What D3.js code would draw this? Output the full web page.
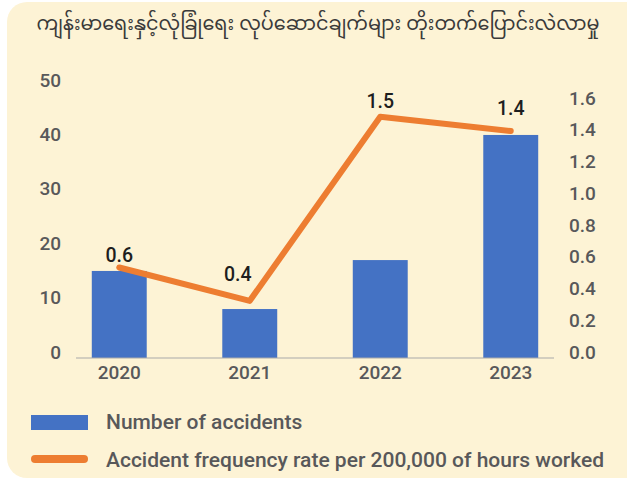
<!DOCTYPE html>
<html>
<head>
<meta charset="utf-8">
<script src="https://cdn.jsdelivr.net/npm/d3@7"></script>
<style>
  body { margin: 0; background: #fff; }
  svg text { font-family: Roboto, "Noto Sans", sans-serif; }
</style>
</head>
<body>
<svg id="chart" width="627" height="479"></svg>
<script>
// DATA
var years = ["2020", "2021", "2022", "2023"];
var accidents = [16, 9, 18, 41];
var rate = [0.57, 0.36, 1.52, 1.43];
var rateLabels = ["0.6", "0.4", "1.5", "1.4"];
var leftTicks = [0, 10, 20, 30, 40, 50];
var rightTicks = [0, 0.2, 0.4, 0.6, 0.8, 1.0, 1.2, 1.4, 1.6];
var title = "ကျန်းမာရေးနှင့်လုံခြုံရေး လုပ်ဆောင်ချက်များ တိုးတက်ပြောင်းလဲလာမှု";
var legendNames = ["Number of accidents", "Accident frequency rate per 200,000 of hours worked"];

var blue = "#4472c4", orange = "#ed7d31", grey = "#58585a";

var svg = d3.select("#chart");

// card
svg.append("rect")
  .attr("x", 7).attr("y", 2)
  .attr("width", 640).attr("height", 476)
  .attr("rx", 20)
  .attr("fill", "#fdf3d5");

svg.append("text")
  .attr("x", 318).attr("y", 30)
  .attr("text-anchor", "middle")
  .attr("font-size", 19.2)
  .attr("fill", "#3a3a3a")
  .style("font-family", "'Noto Sans Myanmar', 'Noto Sans', sans-serif")
  .text(title);

var x = d3.scaleBand().domain(years)
  .range([76, 554]).paddingInner(0.579).paddingOuter(0.121);
var yL = d3.scaleLinear().domain([0, 50]).range([358, 86]);
var yR = d3.scaleLinear().domain([0, 1.6]).range([358, 104]);

function styleTicks(g) {
  g.selectAll("text")
    .attr("font-size", 19).attr("font-weight", 500).attr("fill", grey)
    .style("font-family", "Roboto");
}

// left axis labels
var gl = svg.append("g").attr("transform", "translate(61,0)")
  .call(d3.axisLeft(yL).tickValues(leftTicks).tickSize(0).tickPadding(0));
gl.select(".domain").remove();
gl.selectAll("text").attr("dy", 0);
styleTicks(gl);

// right axis labels
var gr = svg.append("g").attr("transform", "translate(569,0)")
  .call(d3.axisRight(yR).tickValues(rightTicks).tickFormat(d3.format(".1f")).tickSize(0).tickPadding(0));
gr.select(".domain").remove();
gr.selectAll("text").attr("dy", 0);
styleTicks(gr);

// bars
svg.selectAll(".bar")
  .data(accidents)
  .enter().append("rect")
  .attr("class", "bar")
  .attr("x", function(d, i) { return x(years[i]); })
  .attr("width", x.bandwidth())
  .attr("y", function(d) { return yL(d); })
  .attr("height", function(d) { return yL(0) - yL(d); })
  .attr("fill", blue);

// baseline + x labels
var gx = svg.append("g").attr("transform", "translate(0,358)")
  .call(d3.axisBottom(x).tickSize(0).tickPadding(8));
gx.select(".domain").attr("stroke", "#a9a9a9").attr("stroke-width", 1.2)
  .attr("d", "M76,0H554");
styleTicks(gx);

// rate line
var line = d3.line()
  .x(function(d, i) { return x(years[i]) + x.bandwidth() / 2; })
  .y(function(d) { return yR(d); });

svg.append("path")
  .datum(rate)
  .attr("d", line)
  .attr("fill", "none")
  .attr("stroke", orange)
  .attr("stroke-width", 6)
  .attr("stroke-linecap", "round")
  .attr("stroke-linejoin", "round");

// value labels (nudges so they sit like the original)
var labelDx = [0, -12, 0, 0];
var labelDy = [-6, -20, -9, -16];
svg.selectAll(".vlabel")
  .data(rate)
  .enter().append("text")
  .attr("class", "vlabel")
  .attr("x", function(d, i) { return x(years[i]) + x.bandwidth() / 2 + labelDx[i]; })
  .attr("y", function(d, i) { return yR(d) + labelDy[i]; })
  .attr("text-anchor", "middle")
  .attr("font-size", 19.5).attr("font-weight", 500)
  .attr("fill", "#1e1e1e")
  .text(function(d, i) { return rateLabels[i]; });

// legend
var lg = svg.append("g");
lg.append("rect")
  .attr("x", 31).attr("y", 415).attr("width", 57).attr("height", 15)
  .attr("fill", blue);
lg.append("line")
  .attr("x1", 35).attr("x2", 84).attr("y1", 459).attr("y2", 459)
  .attr("stroke", orange).attr("stroke-width", 8).attr("stroke-linecap", "round");
lg.selectAll(".ltext")
  .data(legendNames)
  .enter().append("text")
  .attr("class", "ltext")
  .attr("x", 106)
  .attr("y", function(d, i) { return 429 + i * 38; })
  .attr("font-size", 21).attr("font-weight", 500).attr("fill", grey)
  .text(function(d) { return d; });
</script>
</body>
</html>
